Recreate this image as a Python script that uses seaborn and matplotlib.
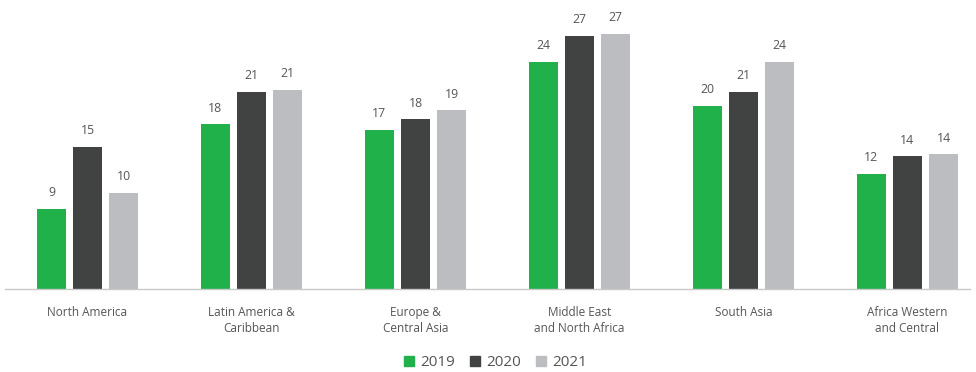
import matplotlib
matplotlib.use("Agg")
import matplotlib.pyplot as plt
from matplotlib.lines import Line2D
import pandas as pd
import seaborn as sns

# Regional values by year
regions = [
    "North America",
    "Latin America &\nCaribbean",
    "Europe &\nCentral Asia",
    "Middle East\nand North Africa",
    "South Asia",
    "Africa Western\nand Central",
]
years = ["2019", "2020", "2021"]
v2019 = [8.6, 17.6, 17.0, 24.3, 19.6, 12.3]
v2020 = [15.2, 21.1, 18.15, 27.1, 21.1, 14.2]
v2021 = [10.3, 21.3, 19.1, 27.3, 24.3, 14.4]
colors = ["#21b14b", "#414342", "#bcbdc0"]

df = pd.DataFrame({
    "region": regions * 3,
    "year": [y for y in years for _ in regions],
    "value": v2019 + v2020 + v2021,
})

sns.set_theme(style="white")
plt.rcParams["font.family"] = ["Open Sans", "DejaVu Sans"]
text_color = "#555555"

fig = plt.figure(figsize=(9.76, 3.72), dpi=100)
W, H = 976, 372
left, right, base, top = 5, 970, 289, 10
ax = fig.add_axes([left / W, (H - base) / H, (right - left) / W, (base - top) / H])

sns.barplot(
    data=df, x="region", y="value", hue="year", order=regions, hue_order=years,
    palette=colors, width=0.66, gap=0.2, saturation=1, ax=ax, legend=False,
    edgecolor="none", linewidth=0,
)

ax.set_xlim(-0.503, 5.382)
ax.set_ylim(0, (base - top) / 9.35)

for cont in ax.containers:
    vals = [b.get_height() for b in cont]
    ax.bar_label(cont, labels=[f"{round(v):d}" for v in vals], padding=7,
                 fontsize=8.8, color=text_color)

for s in ["top", "right", "left"]:
    ax.spines[s].set_visible(False)
ax.spines["bottom"].set_color("#c8c8c8")
ax.spines["bottom"].set_linewidth(1.0)
ax.set_yticks([])
ax.set_xlabel("")
ax.set_ylabel("")
ax.tick_params(axis="x", length=0, pad=12, labelsize=8.5, labelcolor=text_color)
for lbl in ax.get_xticklabels():
    lbl.set_linespacing(1.3)

handles = [Line2D([], [], marker="s", linestyle="none", markersize=6.5,
                  markerfacecolor=c, markeredgecolor=c) for c in colors]
fig.legend(handles, years, loc="center", bbox_to_anchor=(496 / W, 1 - 363 / H),
           ncol=3, frameon=False, fontsize=11, handlelength=0.6,
           handletextpad=0.45, columnspacing=1.0, labelcolor=text_color)

fig.savefig("out.png", dpi=100)
